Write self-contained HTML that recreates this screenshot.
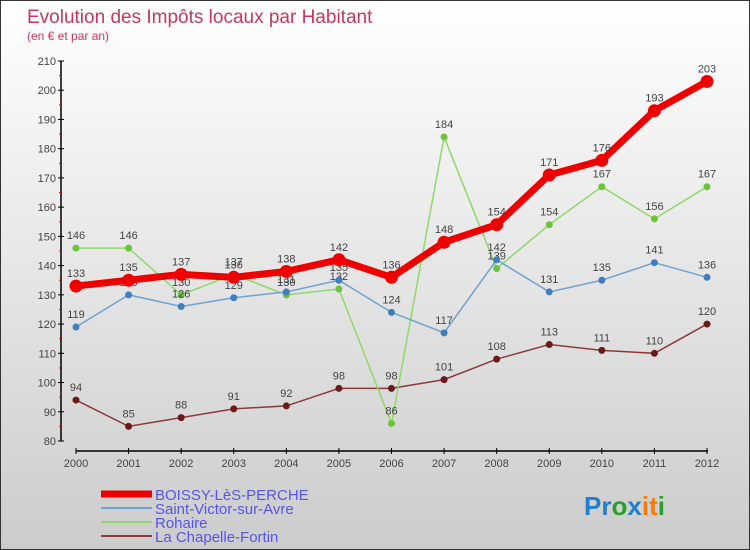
<!DOCTYPE html>
<html><head><meta charset="utf-8"><style>
body{margin:0}
#wrap{width:748px;height:548px;border:1px solid #333;background:linear-gradient(#fff,#ccc);position:relative;font-family:"Liberation Sans",sans-serif;overflow:hidden}
</style></head><body>
<div id="wrap">
<svg id="chart" width="748" height="548"></svg>
</div>
<script>
const years=[2000,2001,2002,2003,2004,2005,2006,2007,2008,2009,2010,2011,2012];
const boissy=[133,135,137,136,138,142,136,148,154,171,176,193,203];
const stVictor=[119,130,126,129,131,135,124,117,142,131,135,141,136];
const rohaire=[146,146,130,137,130,132,86,184,139,154,167,156,167];
const chapelle=[94,85,88,91,92,98,98,101,108,113,111,110,120];
const yTicks=[80,90,100,110,120,130,140,150,160,170,180,190,200,210];
const NS="http://www.w3.org/2000/svg";
const svg=document.getElementById('chart');
const X=i=>75+i*(631/(years.length-1));
const Y=v=>60+(210-v)*(380/130);
function mk(t,a,p){const e=document.createElementNS(NS,t);for(const k in a)e.setAttribute(k,a[k]);(p||svg).appendChild(e);return e;}
let t=mk('text',{x:26,y:22,fill:'#c8365e','font-size':19});t.textContent='Evolution des Impôts locaux par Habitant';

t=mk('text',{x:26,y:39,fill:'#c8365e','font-size':12});t.textContent='(en € et par an)';

// y axis
let ax=mk('line',{x1:60,y1:60,x2:60,y2:440,stroke:'#000','stroke-width':1.5});

yTicks.forEach(v=>{mk('line',{x1:57,x2:63,y1:Y(v),y2:Y(v),stroke:'#000'});
 if(v<210)mk('line',{x1:58,x2:60,y1:Y(v+5),y2:Y(v+5),stroke:'#e00'});
 const l=mk('text',{x:55,y:Y(v)+4,'text-anchor':'end','font-size':11,fill:'#444'});l.textContent=v;
 });
ax=mk('line',{x1:75,y1:450,x2:707,y2:450,stroke:'#000','stroke-width':1.5});

years.forEach((y,i)=>{mk('line',{x1:X(i),x2:X(i),y1:447,y2:453,stroke:'#000'});
 const l=mk('text',{x:X(i),y:466,'text-anchor':'middle','font-size':11,fill:'#444'});l.textContent=y;
 });
const series=[
 {d:chapelle,c:'#8b3a3a',m:'#6b1a1a',w:1.5,r:3.5,n:'la-chapelle-fortin'},
 {d:rohaire,c:'#8fd86a',m:'#6cc33c',w:1.5,r:3.5,n:'rohaire'},
 {d:stVictor,c:'#6fa3cf',m:'#3f7fbf',w:1.5,r:3.5,n:'saint-victor-sur-avre'},
 {d:boissy,c:'#ee0000',m:'#ee0000',w:7,r:6.5,n:'boissy-les-perche'}];
series.forEach(s=>{
 const g=mk('g',{});
 mk('polyline',{points:s.d.map((v,i)=>X(i)+','+Y(v)).join(' '),fill:'none',stroke:s.c,'stroke-width':s.w},g);
 s.d.forEach((v,i)=>{const p=mk('circle',{cx:X(i),cy:Y(v),r:s.r,fill:s.m},g);
  
  const l=mk('text',{x:X(i),y:Y(v)-9,'text-anchor':'middle','font-size':11,fill:'#444'},g);l.textContent=v;});
});
const leg=[['BOISSY-LèS-PERCHE','#ee0000',7],['Saint-Victor-sur-Avre','#6fa3cf',2],['Rohaire','#8fd86a',2],['La Chapelle-Fortin','#8b3a3a',2]];
leg.forEach((L,i)=>{const y=493+i*14;const g=mk('g',{});
 mk('line',{x1:100,x2:151,y1:y,y2:y,stroke:L[1],'stroke-width':L[2]},g);
 const tx=mk('text',{x:154,y:y+6,'font-size':15,fill:'#5555ee'},g);tx.textContent=L[0];});
const logo=mk('text',{x:583,y:514,'font-size':26,'font-weight':'bold'});

[['Pr','#1e7fd0'],['o','#2aa02a'],['x','#1e7fd0'],['i','#ff7a00'],['t','#ff7a00'],['i','#2aa02a']].forEach(p=>{const s=mk('tspan',{fill:p[1]},logo);s.textContent=p[0];});
</script>
</body></html>
